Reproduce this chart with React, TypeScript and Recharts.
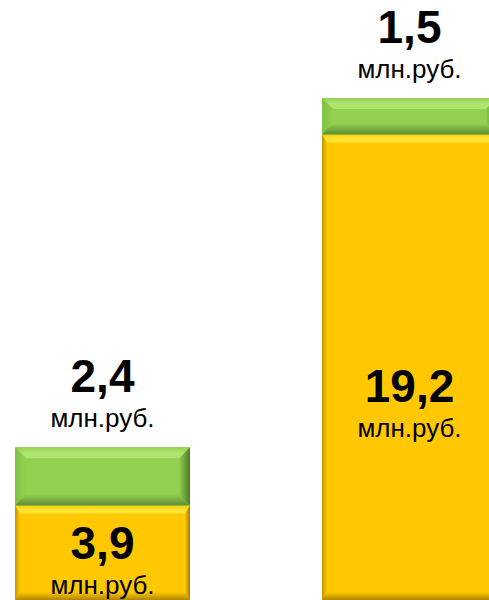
import React from "react";
import { BarChart, Bar, XAxis, YAxis, LabelList } from "recharts";

const categories = ["Период 1", "Период 2"];
const baseValues = [3.9, 19.2];
const topValues = [2.4, 1.5];
const unitLabel = "млн.руб.";

const data = categories.map((c, i) => ({
  name: c,
  base: baseValues[i],
  top: topValues[i],
}));

const FONT = "'Liberation Sans', Arial, sans-serif";

const GREEN = { id: "g", base: "#92d050", top: "#aee56e", left: "#80c044", right: "#4f7a28", bottom: "#5e8f32", side: 11, tb: 11 };
const YELLOW = { id: "y", base: "#ffc800", top: "#ffe433", left: "#c29400", right: "#a07a00", bottom: "#b08600", side: 5, tb: 8 };

const fmt = (v: number) => String(v).replace(".", ",");

function makeBevel(pal: typeof GREEN) {
  return (props: any) => {
    const { x, y, width: w, height: h, index } = props;
    if (!w || !h) return null;
    const s = Math.min(pal.side, w / 2);
    const t = Math.min(pal.tb, h / 2);
    const gid = `${pal.id}${index}`;
    return (
      <g>
        <defs>
          <linearGradient id={`${gid}t`} x1="0" y1="0" x2="0" y2="1">
            <stop offset="0" stopColor={pal.base} />
            <stop offset="0.5" stopColor={pal.top} />
            <stop offset="1" stopColor={pal.top} />
          </linearGradient>
          <linearGradient id={`${gid}b`} x1="0" y1="0" x2="0" y2="1">
            <stop offset="0" stopColor={pal.base} />
            <stop offset="1" stopColor={pal.bottom} />
          </linearGradient>
          <linearGradient id={`${gid}r`} x1="0" y1="0" x2="1" y2="0">
            <stop offset="0" stopColor={pal.base} />
            <stop offset="1" stopColor={pal.right} />
          </linearGradient>
          <linearGradient id={`${gid}l`} x1="0" y1="0" x2="1" y2="0">
            <stop offset="0" stopColor={pal.left} />
            <stop offset="1" stopColor={pal.base} />
          </linearGradient>
        </defs>
        <rect x={x} y={y} width={w} height={h} fill={pal.base} />
        <polygon points={`${x},${y} ${x + w},${y} ${x + w - s},${y + t} ${x + s},${y + t}`} fill={`url(#${gid}t)`} />
        <polygon points={`${x},${y} ${x + s},${y + t} ${x + s},${y + h - t} ${x},${y + h}`} fill={`url(#${gid}l)`} />
        <polygon points={`${x + w},${y} ${x + w},${y + h} ${x + w - s},${y + h - t} ${x + w - s},${y + t}`} fill={`url(#${gid}r)`} />
        <polygon points={`${x},${y + h} ${x + s},${y + h - t} ${x + w - s},${y + h - t} ${x + w},${y + h}`} fill={`url(#${gid}b)`} />
      </g>
    );
  };
}

const GreenShape = makeBevel(GREEN);
const YellowShape = makeBevel(YELLOW);

const yellowDy = [6, 35];

const TopLabel = (props: any) => {
  const { x, y, width, value } = props;
  const cx = x + width / 2;
  return (
    <g>
      <text x={cx} y={y - 55} textAnchor="middle" fontFamily={FONT} fontWeight="bold" fontSize={46} fill="#000">
        {fmt(value)}
      </text>
      <text x={cx} y={y - 20} textAnchor="middle" fontFamily={FONT} fontSize={26} fill="#000">
        {unitLabel}
      </text>
    </g>
  );
};

const BaseLabel = (props: any) => {
  const { x, y, width, height, value, index } = props;
  const cx = x + width / 2;
  const base = y + height / 2 + (yellowDy[index] ?? 20);
  return (
    <g>
      <text x={cx} y={base} textAnchor="middle" fontFamily={FONT} fontWeight="bold" fontSize={46} fill="#000">
        {fmt(value)}
      </text>
      <text x={cx} y={base + 35} textAnchor="middle" fontFamily={FONT} fontSize={26} fill="#000">
        {unitLabel}
      </text>
    </g>
  );
};

export default function App() {
  return (
    <div style={{ position: "fixed", left: 0, top: 0, width: 489, height: 600, overflow: "hidden", background: "#fff" }}>
      <div style={{ position: "absolute", left: -51, top: 0 }}>
        <BarChart width={614} height={600} data={data} margin={{ top: 98, right: 0, bottom: 0, left: 0 }} barSize={175}>
          <XAxis dataKey="name" hide />
          <YAxis hide domain={[0, "dataMax"]} />
          <Bar dataKey="base" stackId="a" isAnimationActive={false} shape={YellowShape}>
            <LabelList dataKey="base" content={BaseLabel} />
          </Bar>
          <Bar dataKey="top" stackId="a" isAnimationActive={false} shape={GreenShape}>
            <LabelList dataKey="top" content={TopLabel} />
          </Bar>
        </BarChart>
      </div>
    </div>
  );
}
